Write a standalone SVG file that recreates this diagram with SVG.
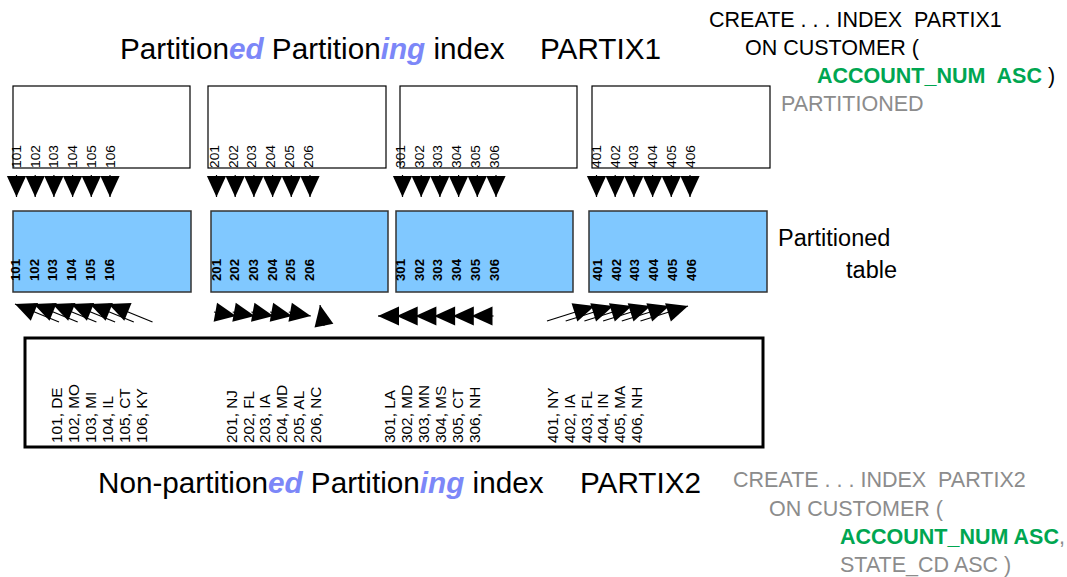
<svg xmlns="http://www.w3.org/2000/svg" width="1067" height="577" viewBox="0 0 1067 577">
  <style>
    text { font-family: "Liberation Sans", Arial, sans-serif; }
    .title { font-size: 29.7px; fill: #000; }
    .hl { font-weight: bold; font-style: italic; fill: #7C87F8; }
    .code { font-size: 21.5px; fill: #000; }
    .gray { fill: #8C8C8C; }
    .green { fill: #00A651; font-weight: bold; }
    .ibox { fill: #fff; stroke: #000; stroke-width: 1.2; }
    .tbox { fill: #80C8FF; stroke: #333; stroke-width: 1.5; }
    .bbox { fill: #fff; stroke: #000; stroke-width: 3; }
    .ilab { font-size: 12.5px; fill: #000; }
    .tlab { font-size: 12px; font-weight: bold; fill: #000; }
    .blab { font-size: 14px; fill: #000; }
    .conn line { stroke: #000; stroke-width: 1.2; marker-end: url(#head); }
  </style>
  <defs>
    <marker id="head" markerUnits="userSpaceOnUse" viewBox="-22 -11 24 22" refX="0" refY="0" markerWidth="24" markerHeight="22" orient="auto" overflow="visible">
      <path d="M0,0 L-21,-9.6 L-21,9.6 Z" fill="#000"/>
    </marker>
  </defs>

  <!-- headings -->
  <g id="title-top">
    <text class="title" x="120" y="59">Partition<tspan class="hl">ed</tspan> Partition<tspan class="hl">ing</tspan> index<tspan x="540">PARTIX1</tspan></text>
  </g>
  <g id="title-bottom">
    <text class="title" x="98" y="493">Non-partition<tspan class="hl">ed</tspan> Partition<tspan class="hl">ing</tspan> index<tspan x="580">PARTIX2</tspan></text>
  </g>

  <!-- DDL for the partitioned index -->
  <g id="ddl-partix1">
    <text class="code" x="709" y="27" xml:space="preserve">CREATE . . . INDEX  PARTIX1</text>
    <text class="code" x="745" y="55">ON CUSTOMER (</text>
    <text class="code" x="817" y="83" xml:space="preserve"><tspan class="green">ACCOUNT_NUM  ASC</tspan> )</text>
    <text class="code gray" x="781" y="111">PARTITIONED</text>
  </g>

  <!-- DDL for the non-partitioned index -->
  <g id="ddl-partix2">
    <text class="code gray" x="733" y="487" xml:space="preserve">CREATE . . . INDEX  PARTIX2</text>
    <text class="code gray" x="769" y="516">ON CUSTOMER (</text>
    <text class="code gray" x="840" y="544"><tspan class="green">ACCOUNT_NUM ASC</tspan>,</text>
    <text class="code gray" x="840" y="572">STATE_CD ASC )</text>
  </g>

  <g id="label-table">
    <text x="778" y="246" font-size="23.5">Partitioned</text>
    <text x="897" y="278" font-size="23.5" text-anchor="end">table</text>
  </g>

  <!-- index partitions -->
  <g id="ipart1">
    <rect class="ibox" x="13" y="86" width="177" height="82"/>
    <g class="ilab">
      <text transform="translate(21,168) rotate(-90) scale(1.1,1)">101</text>
      <text transform="translate(39.7,168) rotate(-90) scale(1.1,1)">102</text>
      <text transform="translate(58.4,168) rotate(-90) scale(1.1,1)">103</text>
      <text transform="translate(77.1,168) rotate(-90) scale(1.1,1)">104</text>
      <text transform="translate(95.8,168) rotate(-90) scale(1.1,1)">105</text>
      <text transform="translate(114.5,168) rotate(-90) scale(1.1,1)">106</text>
    </g>
  </g>
  <g id="ipart2">
    <rect class="ibox" x="208" y="86" width="178" height="82"/>
    <g class="ilab">
      <text transform="translate(219,168) rotate(-90) scale(1.1,1)">201</text>
      <text transform="translate(237.7,168) rotate(-90) scale(1.1,1)">202</text>
      <text transform="translate(256.4,168) rotate(-90) scale(1.1,1)">203</text>
      <text transform="translate(275.1,168) rotate(-90) scale(1.1,1)">204</text>
      <text transform="translate(293.8,168) rotate(-90) scale(1.1,1)">205</text>
      <text transform="translate(312.5,168) rotate(-90) scale(1.1,1)">206</text>
    </g>
  </g>
  <g id="ipart3">
    <rect class="ibox" x="400" y="86" width="177" height="82"/>
    <g class="ilab">
      <text transform="translate(405,168) rotate(-90) scale(1.1,1)">301</text>
      <text transform="translate(423.7,168) rotate(-90) scale(1.1,1)">302</text>
      <text transform="translate(442.4,168) rotate(-90) scale(1.1,1)">303</text>
      <text transform="translate(461.1,168) rotate(-90) scale(1.1,1)">304</text>
      <text transform="translate(479.8,168) rotate(-90) scale(1.1,1)">305</text>
      <text transform="translate(498.5,168) rotate(-90) scale(1.1,1)">306</text>
    </g>
  </g>
  <g id="ipart4">
    <rect class="ibox" x="592" y="86" width="178" height="82"/>
    <g class="ilab">
      <text transform="translate(601,168) rotate(-90) scale(1.1,1)">401</text>
      <text transform="translate(619.7,168) rotate(-90) scale(1.1,1)">402</text>
      <text transform="translate(638.4,168) rotate(-90) scale(1.1,1)">403</text>
      <text transform="translate(657.1,168) rotate(-90) scale(1.1,1)">404</text>
      <text transform="translate(675.8,168) rotate(-90) scale(1.1,1)">405</text>
      <text transform="translate(694.5,168) rotate(-90) scale(1.1,1)">406</text>
    </g>
  </g>

  <!-- table partitions -->
  <g id="tpart1">
    <rect class="tbox" x="13" y="211" width="178" height="81"/>
    <g class="tlab">
      <text transform="translate(20,281) rotate(-90) scale(1.1,1)">101</text>
      <text transform="translate(38.7,281) rotate(-90) scale(1.1,1)">102</text>
      <text transform="translate(57.4,281) rotate(-90) scale(1.1,1)">103</text>
      <text transform="translate(76.1,281) rotate(-90) scale(1.1,1)">104</text>
      <text transform="translate(94.8,281) rotate(-90) scale(1.1,1)">105</text>
      <text transform="translate(113.5,281) rotate(-90) scale(1.1,1)">106</text>
    </g>
  </g>
  <g id="tpart2">
    <rect class="tbox" x="211" y="211" width="177" height="81"/>
    <g class="tlab">
      <text transform="translate(220.5,281) rotate(-90) scale(1.1,1)">201</text>
      <text transform="translate(239.2,281) rotate(-90) scale(1.1,1)">202</text>
      <text transform="translate(257.9,281) rotate(-90) scale(1.1,1)">203</text>
      <text transform="translate(276.6,281) rotate(-90) scale(1.1,1)">204</text>
      <text transform="translate(295.3,281) rotate(-90) scale(1.1,1)">205</text>
      <text transform="translate(314,281) rotate(-90) scale(1.1,1)">206</text>
    </g>
  </g>
  <g id="tpart3">
    <rect class="tbox" x="396" y="211" width="177" height="81"/>
    <g class="tlab">
      <text transform="translate(405,281) rotate(-90) scale(1.1,1)">301</text>
      <text transform="translate(423.7,281) rotate(-90) scale(1.1,1)">302</text>
      <text transform="translate(442.4,281) rotate(-90) scale(1.1,1)">303</text>
      <text transform="translate(461.1,281) rotate(-90) scale(1.1,1)">304</text>
      <text transform="translate(479.8,281) rotate(-90) scale(1.1,1)">305</text>
      <text transform="translate(498.5,281) rotate(-90) scale(1.1,1)">306</text>
    </g>
  </g>
  <g id="tpart4">
    <rect class="tbox" x="589" y="211" width="178" height="81"/>
    <g class="tlab">
      <text transform="translate(602,281) rotate(-90) scale(1.1,1)">401</text>
      <text transform="translate(620.7,281) rotate(-90) scale(1.1,1)">402</text>
      <text transform="translate(639.4,281) rotate(-90) scale(1.1,1)">403</text>
      <text transform="translate(658.1,281) rotate(-90) scale(1.1,1)">404</text>
      <text transform="translate(676.8,281) rotate(-90) scale(1.1,1)">405</text>
      <text transform="translate(695.5,281) rotate(-90) scale(1.1,1)">406</text>
    </g>
  </g>

  <!-- non-partitioned index -->
  <g id="npi">
    <rect class="bbox" x="25" y="338" width="738" height="109"/>
    <g class="blab">
      <text transform="translate(62,443) rotate(-90) scale(1.1,1)">101, DE</text>
      <text transform="translate(79,443) rotate(-90) scale(1.1,1)">102, MO</text>
      <text transform="translate(96,443) rotate(-90) scale(1.1,1)">103, MI</text>
      <text transform="translate(113,443) rotate(-90) scale(1.1,1)">104, IL</text>
      <text transform="translate(130,443) rotate(-90) scale(1.1,1)">105, CT</text>
      <text transform="translate(147,443) rotate(-90) scale(1.1,1)">106, KY</text>

      <text transform="translate(237,443) rotate(-90) scale(1.1,1)">201, NJ</text>
      <text transform="translate(253.7,443) rotate(-90) scale(1.1,1)">202, FL</text>
      <text transform="translate(270.4,443) rotate(-90) scale(1.1,1)">203, IA</text>
      <text transform="translate(287.1,443) rotate(-90) scale(1.1,1)">204, MD</text>
      <text transform="translate(303.8,443) rotate(-90) scale(1.1,1)">205, AL</text>
      <text transform="translate(320.5,443) rotate(-90) scale(1.1,1)">206, NC</text>

      <text transform="translate(395,443) rotate(-90) scale(1.1,1)">301, LA</text>
      <text transform="translate(412,443) rotate(-90) scale(1.1,1)">302, MD</text>
      <text transform="translate(429,443) rotate(-90) scale(1.1,1)">303, MN</text>
      <text transform="translate(446,443) rotate(-90) scale(1.1,1)">304, MS</text>
      <text transform="translate(463,443) rotate(-90) scale(1.1,1)">305, CT</text>
      <text transform="translate(480,443) rotate(-90) scale(1.1,1)">306, NH</text>

      <text transform="translate(558,443) rotate(-90) scale(1.1,1)">401, NY</text>
      <text transform="translate(574.8,443) rotate(-90) scale(1.1,1)">402, IA</text>
      <text transform="translate(591.6,443) rotate(-90) scale(1.1,1)">403, FL</text>
      <text transform="translate(608.4,443) rotate(-90) scale(1.1,1)">404, IN</text>
      <text transform="translate(625.2,443) rotate(-90) scale(1.1,1)">405, MA</text>
      <text transform="translate(642,443) rotate(-90) scale(1.1,1)">406, NH</text>
    </g>
  </g>

  <!-- connectors -->
  <g id="connectors" class="conn">
    <!-- index entries down to table rows -->
    <line x1="16.5" y1="175" x2="16.5" y2="197"/>
    <line x1="35.2" y1="175" x2="35.2" y2="197"/>
    <line x1="53.9" y1="175" x2="53.9" y2="197"/>
    <line x1="72.6" y1="175" x2="72.6" y2="197"/>
    <line x1="91.3" y1="175" x2="91.3" y2="197"/>
    <line x1="110" y1="175" x2="110" y2="197"/>

    <line x1="216.5" y1="175" x2="216.5" y2="197"/>
    <line x1="235.2" y1="175" x2="235.2" y2="197"/>
    <line x1="253.9" y1="175" x2="253.9" y2="197"/>
    <line x1="272.6" y1="175" x2="272.6" y2="197"/>
    <line x1="291.3" y1="175" x2="291.3" y2="197"/>
    <line x1="310" y1="175" x2="310" y2="197"/>

    <line x1="402.5" y1="175" x2="402.5" y2="197"/>
    <line x1="421.2" y1="175" x2="421.2" y2="197"/>
    <line x1="439.9" y1="175" x2="439.9" y2="197"/>
    <line x1="458.6" y1="175" x2="458.6" y2="197"/>
    <line x1="477.3" y1="175" x2="477.3" y2="197"/>
    <line x1="496" y1="175" x2="496" y2="197"/>

    <line x1="596.5" y1="175" x2="596.5" y2="197"/>
    <line x1="615.2" y1="175" x2="615.2" y2="197"/>
    <line x1="633.9" y1="175" x2="633.9" y2="197"/>
    <line x1="652.6" y1="175" x2="652.6" y2="197"/>
    <line x1="671.3" y1="175" x2="671.3" y2="197"/>
    <line x1="690" y1="175" x2="690" y2="197"/>

    <!-- non-partitioned index entries up to table rows -->
    <line x1="59" y1="322" x2="15" y2="304"/>
    <line x1="77.7" y1="322" x2="33.7" y2="304"/>
    <line x1="96.4" y1="322" x2="52.4" y2="304"/>
    <line x1="115.1" y1="322" x2="71.1" y2="304"/>
    <line x1="133.8" y1="322" x2="89.8" y2="304"/>
    <line x1="152.5" y1="322" x2="108.5" y2="304"/>

    <line x1="214" y1="312" x2="236" y2="316"/>
    <line x1="232.7" y1="312" x2="254.7" y2="316"/>
    <line x1="251.4" y1="312" x2="273.4" y2="316"/>
    <line x1="270.1" y1="312" x2="292.1" y2="316"/>
    <line x1="288.8" y1="312" x2="310.8" y2="316"/>
    <line x1="324" y1="326" x2="320" y2="305"/>

    <line x1="400" y1="316" x2="378" y2="316"/>
    <line x1="418.7" y1="316" x2="396.7" y2="316"/>
    <line x1="437.4" y1="316" x2="415.4" y2="316"/>
    <line x1="456.1" y1="316" x2="434.1" y2="316"/>
    <line x1="474.8" y1="316" x2="452.8" y2="316"/>
    <line x1="493.5" y1="316" x2="471.5" y2="316"/>

    <line x1="547" y1="321" x2="594.5" y2="306"/>
    <line x1="565.7" y1="321" x2="613.2" y2="306"/>
    <line x1="584.4" y1="321" x2="631.9" y2="306"/>
    <line x1="603.1" y1="321" x2="650.6" y2="306"/>
    <line x1="621.8" y1="321" x2="669.3" y2="306"/>
    <line x1="640.5" y1="321" x2="688" y2="306"/>
  </g>
</svg>
